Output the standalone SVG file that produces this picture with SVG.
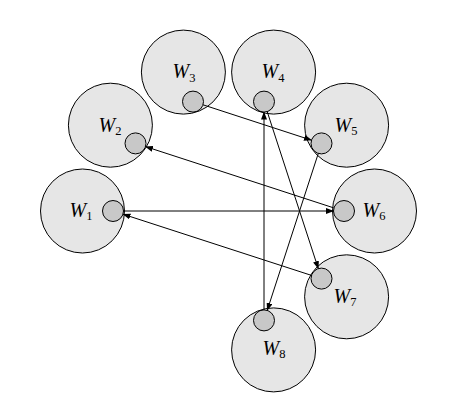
<svg xmlns="http://www.w3.org/2000/svg" width="473" height="406" viewBox="0 0 473 406">
<defs>
<style>
.big{fill:#e6e6e6;stroke:#000;stroke-width:1}
.small{fill:#c8c8c8;stroke:#000;stroke-width:1}
.lbl{font-family:"Liberation Serif","Times New Roman",serif;font-size:20px;fill:#000;text-anchor:middle}
.w{font-style:italic}
.sub{font-size:12.5px}
.edge{stroke:#000;stroke-width:1;fill:none;marker-end:url(#arr)}
</style>
<marker id="arr" markerUnits="userSpaceOnUse" markerWidth="8" markerHeight="6" refX="7.5" refY="3" orient="auto">
<path d="M0,0 L8,3 L0,6 z" fill="#000"/>
</marker>
</defs>
<rect width="473" height="406" fill="#fff"/>
<g id="W1"><circle class="big" cx="82.5" cy="211" r="42"/><circle class="small" cx="113" cy="211" r="10.5"/><text class="lbl" x="81" y="217"><tspan class="w">W</tspan><tspan class="sub" dy="3">1</tspan></text></g>
<g id="W2"><circle class="big" cx="110.4" cy="125.2" r="42"/><circle class="small" cx="135.5" cy="143.4" r="10.5"/><text class="lbl" x="110" y="131.5"><tspan class="w">W</tspan><tspan class="sub" dy="3">2</tspan></text></g>
<g id="W3"><circle class="big" cx="183.4" cy="72.1" r="42"/><circle class="small" cx="193" cy="101.6" r="10.5"/><text class="lbl" x="184" y="78.3"><tspan class="w">W</tspan><tspan class="sub" dy="3.4">3</tspan></text></g>
<g id="W4"><circle class="big" cx="273.6" cy="72.1" r="42"/><circle class="small" cx="264" cy="101.6" r="10.5"/><text class="lbl" x="273" y="78.3"><tspan class="w">W</tspan><tspan class="sub" dy="3.4">4</tspan></text></g>
<g id="W5"><circle class="big" cx="346.6" cy="125.2" r="42"/><circle class="small" cx="321.5" cy="143.4" r="10.5"/><text class="lbl" x="346" y="131.5"><tspan class="w">W</tspan><tspan class="sub" dy="3.4">5</tspan></text></g>
<g id="W6"><circle class="big" cx="374.5" cy="211" r="42"/><circle class="small" cx="344" cy="211" r="10.5"/><text class="lbl" x="374" y="216.5"><tspan class="w">W</tspan><tspan class="sub" dy="3.4">6</tspan></text></g>
<g id="W7"><circle class="big" cx="346.6" cy="296.8" r="42"/><circle class="small" cx="321.5" cy="278.6" r="10.5"/><text class="lbl" x="345" y="302.5"><tspan class="w">W</tspan><tspan class="sub" dy="3.4">7</tspan></text></g>
<g id="W8"><circle class="big" cx="273.6" cy="349.9" r="42"/><circle class="small" cx="264" cy="320.4" r="10.5"/><text class="lbl" x="274" y="355"><tspan class="w">W</tspan><tspan class="sub" dy="3.4">8</tspan></text></g>
<g id="connectors">
<line class="edge" x1="203" y1="104.8" x2="311.5" y2="140.2"/>
<line class="edge" x1="267.2" y1="111.6" x2="318.3" y2="268.6"/>
<line class="edge" x1="264" y1="309.9" x2="264" y2="112.1"/>
<line class="edge" x1="318.3" y1="153.4" x2="267.2" y2="310.4"/>
<line class="edge" x1="333.5" y1="207.8" x2="145.5" y2="146.6"/>
<line class="edge" x1="123.5" y1="211" x2="333.5" y2="211"/>
<line class="edge" x1="311.5" y1="275.4" x2="123" y2="214.2"/>
</g>
</svg>
